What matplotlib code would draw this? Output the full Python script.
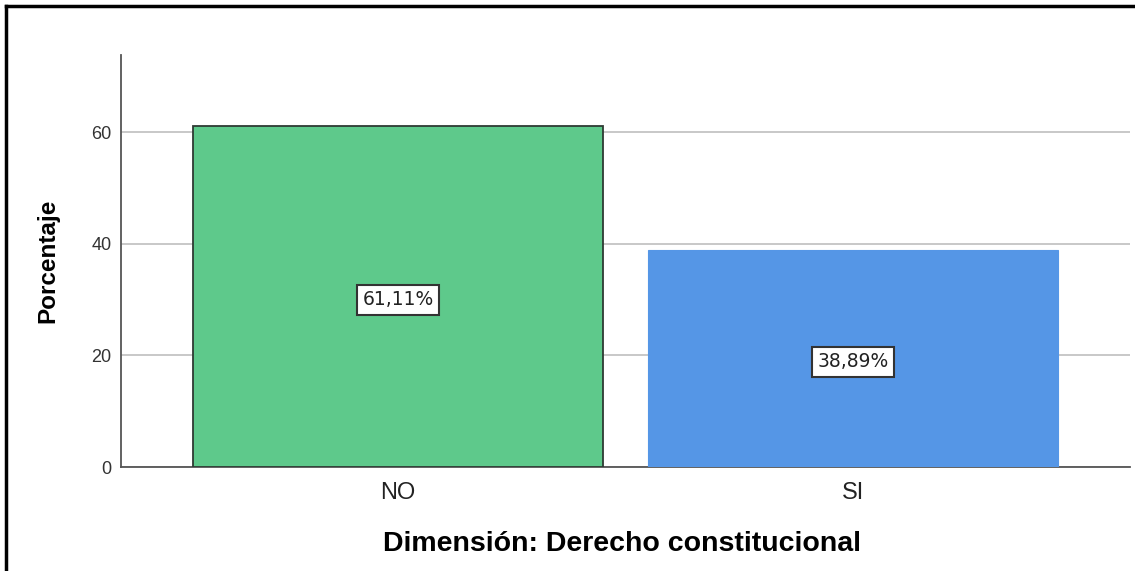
import matplotlib
matplotlib.use("Agg")
import matplotlib.pyplot as plt
from matplotlib.lines import Line2D

categories = ["NO", "SI"]
values = [61.11, 38.89]
labels = ["61,11%", "38,89%"]
yticks = [0, 20, 40, 60]

colors = ["#5ec98b", "#5596e6"]
edgecolors = ["#2e3a33", "#5596e6"]

fig = plt.figure(figsize=(11.35, 5.71), dpi=100)
ax = fig.add_axes([121/1135, 1 - 467/571, (1130 - 121)/1135, (467 - 55)/571])

x = list(range(len(categories)))
ax.bar(x, values, width=0.9, color=colors, edgecolor=edgecolors,
       linewidth=[1.3, 0.8], zorder=3)

for xi, v, lab in zip(x, values, labels):
    ax.text(xi, v / 2 - 0.6, lab, ha="center", va="center", fontsize=13.5,
            family="DejaVu Sans", color="#222222", zorder=5,
            bbox=dict(boxstyle="square,pad=0.3", fc="white", ec="#333333", lw=1.5))

ax.set_xlim(-0.609, 1.609)
ax.set_ylim(0, 73.8)
ax.set_yticks(yticks)
ax.set_yticklabels([str(t) for t in yticks], fontsize=13, color="#333333",
                   family="Liberation Sans")
ax.set_xticks(x)
ax.set_xticklabels(categories, fontsize=17, color="#222222", family="Liberation Sans")
ax.tick_params(axis="both", length=0)
ax.tick_params(axis="y", pad=7)
ax.tick_params(axis="x", pad=11)

ax.yaxis.grid(True, color="#c8c8c8", linewidth=1.4, zorder=0)
ax.set_axisbelow(True)
for s in ["top", "right"]:
    ax.spines[s].set_visible(False)
for s in ["left", "bottom"]:
    ax.spines[s].set_color("#555555")
    ax.spines[s].set_linewidth(1.3)

ax.set_ylabel("Porcentaje", fontsize=17.5, fontweight="bold", family="Liberation Sans")
ax.yaxis.set_label_coords(-0.061, 0.5)
ax.set_xlabel("Dimensión: Derecho constitucional", fontsize=20.5, fontweight="bold",
              family="Liberation Sans")
ax.xaxis.set_label_coords(0.497, -0.155)

# outer frame lines (left and top)
fig.add_artist(Line2D([6/1135, 6/1135], [0, 1 - 6/571], transform=fig.transFigure,
                      color="black", linewidth=2.5))
fig.add_artist(Line2D([6/1135, 1], [1 - 6/571, 1 - 6/571], transform=fig.transFigure,
                      color="black", linewidth=2.5))

fig.savefig("out.png", dpi=100)
